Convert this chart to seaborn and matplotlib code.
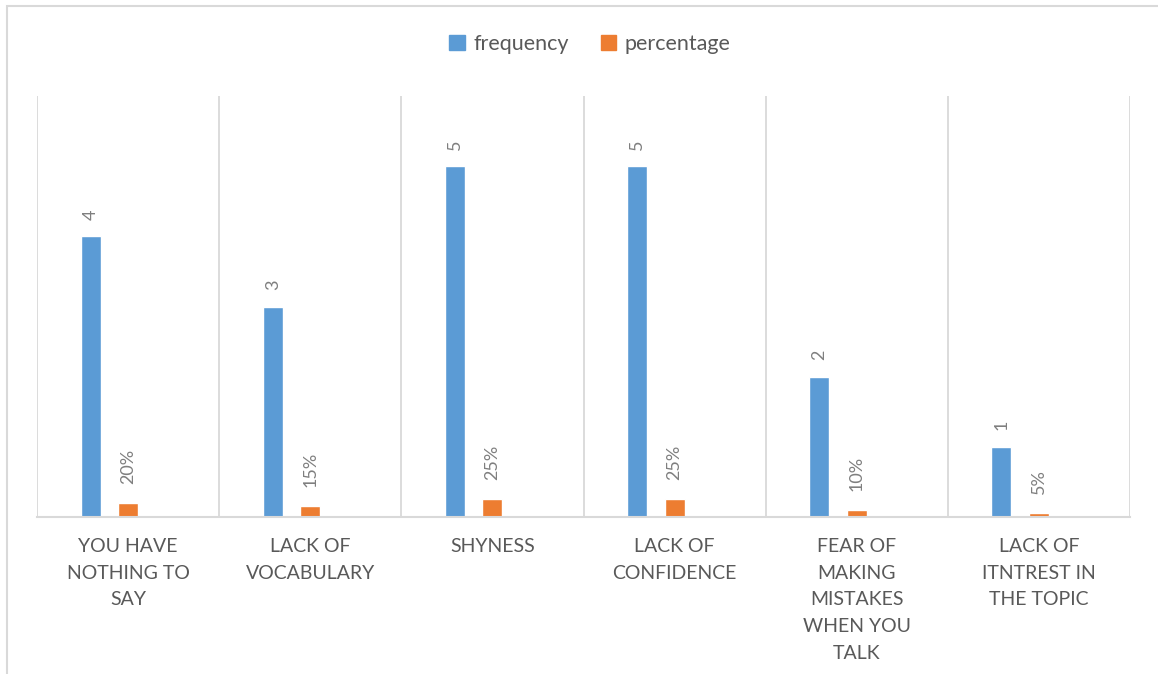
import pandas as pd
import matplotlib.pyplot as plt
import seaborn as sns
from matplotlib.patches import Patch, Rectangle

# chart data
categories = ['YOU HAVE\nNOTHING TO\nSAY', 'LACK OF\nVOCABULARY', 'SHYNESS',
              'LACK OF\nCONFIDENCE', 'FEAR OF\nMAKING\nMISTAKES\nWHEN YOU\nTALK',
              'LACK OF\nITNTREST IN\nTHE TOPIC']
frequency = [4, 3, 5, 5, 2, 1]
percentage = [0.20, 0.15, 0.25, 0.25, 0.10, 0.05]
freq_labels = ['4', '3', '5', '5', '2', '1']
pct_labels = ['20%', '15%', '25%', '25%', '10%', '5%']

sns.set_style('white')
plt.rcParams['font.family'] = ['Lato', 'DejaVu Sans']

df = pd.DataFrame({
    'category': categories * 2,
    'series': ['frequency'] * 6 + ['percentage'] * 6,
    'value': frequency + percentage,
})

colors = {'frequency': '#5B9BD5', 'percentage': '#ED7D31', 'spacer': 'white'}
text_col = '#595959'
grid_col = '#D9D9D9'

fig = plt.figure(figsize=(11.58, 6.74), dpi=100)
ax = fig.add_axes([37 / 1158, 1 - 517 / 674, (1130 - 37) / 1158, (517 - 96) / 674])

# an empty third hue level leaves the Excel-style blank slot to the right
sns.barplot(data=df, x='category', y='value', hue='series',
            hue_order=['frequency', 'percentage', 'spacer'], palette=colors,
            width=0.618, gap=0.466, saturation=1, legend=False, ax=ax, errorbar=None)

ax.set_ylim(0, 6)
ax.set_xlim(-0.5, 5.5)
ax.set_yticks([])
ax.set_xlabel('')
ax.set_ylabel('')

# category separators
ax.set_xticks([i - 0.5 for i in range(7)], minor=True)
ax.grid(True, which='minor', axis='x', color=grid_col, linewidth=1.3)
ax.tick_params(axis='x', which='both', length=0, pad=15)
ax.set_xticklabels(categories, fontsize=14, color=text_col, linespacing=1.7, va='top')

for s in ['top', 'right', 'left']:
    ax.spines[s].set_visible(False)
ax.spines['bottom'].set_color(grid_col)
ax.spines['bottom'].set_linewidth(1.5)

ax.bar_label(ax.containers[0], labels=freq_labels, rotation=90, padding=12,
             fontsize=13, color='#7F7F7F')
ax.bar_label(ax.containers[1], labels=pct_labels, rotation=90, padding=14,
             fontsize=13, color='#7F7F7F')

handles = [Patch(color=colors['frequency'], label='frequency'),
           Patch(color=colors['percentage'], label='percentage')]
leg = fig.legend(handles=handles, loc='center', bbox_to_anchor=(590 / 1158, 1 - 44 / 674),
                 ncol=2, frameon=False, fontsize=15.5, handlelength=0.7, handleheight=0.7,
                 handletextpad=0.4, columnspacing=1.5)
for t in leg.get_texts():
    t.set_color(text_col)

# outer chart frame
fig.patches.append(Rectangle((7 / 1158, -0.1), 1.2, 1 - 6 / 674 + 0.1,
                             transform=fig.transFigure, fill=False,
                             edgecolor=grid_col, linewidth=1.5))

fig.savefig('out.png', dpi=100)
